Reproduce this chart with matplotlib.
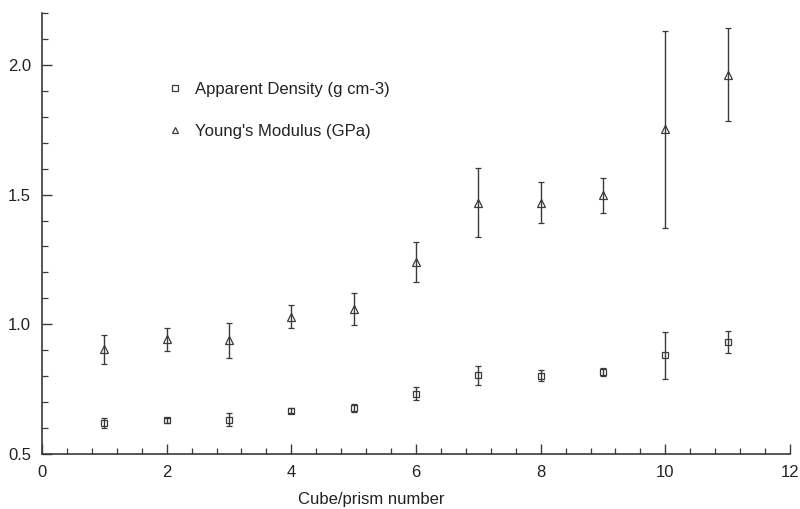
import matplotlib
matplotlib.use("Agg")
import matplotlib.pyplot as plt
from matplotlib.ticker import MultipleLocator, FormatStrFormatter
from matplotlib.lines import Line2D

plt.rcParams['font.family'] = ['Liberation Sans', 'DejaVu Sans']

cube = [1, 2, 3, 4, 5, 6, 7, 8, 9, 10, 11]

density = [0.62, 0.63, 0.633, 0.667, 0.676, 0.733, 0.803, 0.802, 0.815, 0.881, 0.932]
density_err = [0.02, 0.01, 0.025, 0.01, 0.015, 0.025, 0.038, 0.022, 0.015, 0.09, 0.042]

modulus = [0.903, 0.942, 0.938, 1.03, 1.06, 1.24, 1.469, 1.469, 1.497, 1.752, 1.962]
modulus_err = [0.055, 0.045, 0.067, 0.045, 0.062, 0.076, 0.134, 0.078, 0.067, 0.38, 0.18]

ink = '#3a3a3a'
text_ink = '#222222'

fig = plt.figure(figsize=(8, 5.09), dpi=100)
ax = fig.add_axes([0.0525, 0.108, 0.935, 0.8665])

ax.errorbar(cube, modulus, yerr=modulus_err, fmt='^', ms=6, mfc='none',
            mec=ink, mew=0.9, ecolor=ink, elinewidth=1.0, capsize=2.5,
            capthick=1.0)
ax.errorbar(cube, density, yerr=density_err, fmt='s', ms=4.8, mfc='none',
            mec=ink, mew=0.9, ecolor=ink, elinewidth=1.0, capsize=2.5,
            capthick=1.0)

ax.set_xlim(0, 12)
ax.set_ylim(0.5, 2.2)
ax.xaxis.set_major_locator(MultipleLocator(2))
ax.xaxis.set_minor_locator(MultipleLocator(0.4))
ax.yaxis.set_major_locator(MultipleLocator(0.5))
ax.yaxis.set_minor_locator(MultipleLocator(0.1))
ax.yaxis.set_major_formatter(FormatStrFormatter('%.1f'))

for side in ('top', 'right'):
    ax.spines[side].set_visible(False)
for side in ('left', 'bottom'):
    ax.spines[side].set_color(ink)
    ax.spines[side].set_linewidth(1.2)

ax.tick_params(which='major', direction='in', length=7, width=1.0,
               color=ink, labelsize=12, labelcolor=text_ink, pad=8)
ax.tick_params(which='minor', direction='in', length=4, width=0.9, color=ink)

ax.set_xlabel('Cube/prism number', fontsize=12, color=text_ink)
ax.xaxis.set_label_coords(0.44, -0.087)

handles = [
    Line2D([], [], ls='none', marker='s', ms=4.5, mfc='none', mec=ink, mew=0.9),
    Line2D([], [], ls='none', marker='^', ms=4.5, mfc='none', mec=ink, mew=0.9),
]
ax.legend(handles, ['Apparent Density (g cm-3)', "Young's Modulus (GPa)"],
          loc='upper left', bbox_to_anchor=(0.146, 0.877), frameon=False,
          fontsize=12, labelspacing=1.6, handletextpad=0.75,
          handlelength=1.0, labelcolor=text_ink)

fig.savefig('out.png', dpi=100)
